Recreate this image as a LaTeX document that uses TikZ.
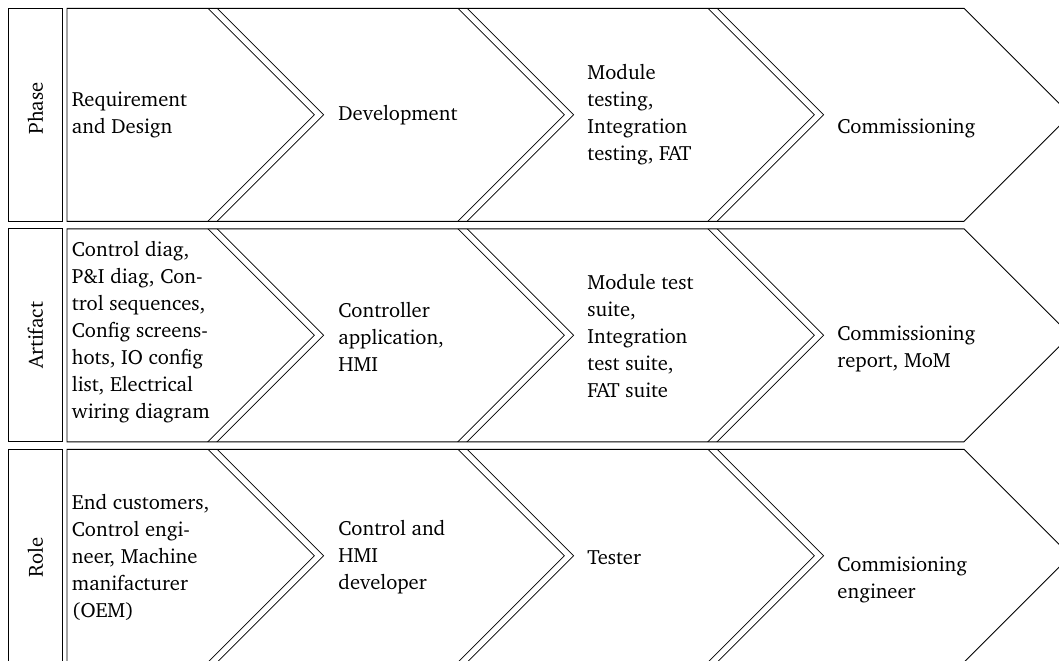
\documentclass[tikz,border=0pt]{standalone}
\usepackage[T1]{fontenc}
\usepackage{charter}
\begin{document}
\begin{tikzpicture}[x=0.4444pt,y=-0.4444pt, line width=0.4pt,
  lab/.style={rotate=90, inner sep=0pt, font=\fontsize{9.15}{12}\selectfont},
  cell/.style={anchor=west, inner sep=0pt, align=left, font=\fontsize{9.15}{12}\selectfont},
  sepline/.style={double, double distance=2.45pt, line width=0.4pt}]
\useasboundingbox (0,0) rectangle (1059,661);
\clip (0,0) rectangle (1059,661);
\foreach \r/\lab/\ly in {0/Phase/108.5, 1/Artifact/335.5, 2/Role/557.5}{
  \pgfmathsetmacro{\T}{8.3+220.5*\r}
  \pgfmathsetmacro{\B}{\T+213}
  \pgfmathsetmacro{\M}{\T+106.5}
  \draw (8.3,\T) rectangle (62.3,\B);
  \node[lab] (lab\r) at (35.5,\ly) {\lab};
  \begin{scope}
    \clip (67,\T) -- (964,\T) -- (1070.5,\M) -- (964,\B) -- (67,\B) -- cycle;
    \foreach \x in {212.5,462.5,712.5}{
      \draw[sepline] (\x-10,\T-10) -- (\x+106.5,\M) -- (\x-10,\B+10);
    }
  \end{scope}
  \draw (67,\T) -- (964,\T) -- (1070.5,\M) -- (964,\B) -- (67,\B) -- cycle;
}
% Phase row
\node[cell] (p1) at (71.5,115) {Requirement\\and Design};
\node[cell] (p2) at (338,115) {Development};
\node[cell] (p3) at (587,115) {Module\\testing,\\Integration\\testing, FAT};
\node[cell] (p4) at (837,128) {Commissioning};
% Artifact row
\node[cell] (a1) at (71.5,332) {Control diag,\\P\&I diag, Con-\\trol sequences,\\Config screens-\\hots, IO config\\list, Electrical\\wiring diagram};
\node[cell] (a2) at (338,336.5) {Controller\\application,\\HMI};
\node[cell] (a3) at (587,336.5) {Module test\\suite,\\Integration\\test suite,\\FAT suite};
\node[cell] (a4) at (837,349) {Commissioning\\report, MoM};
% Role row
\node[cell] (r1) at (71.5,557) {End customers,\\Control engi-\\neer, Machine\\manifacturer\\(OEM)};
\node[cell] (r2) at (338,557) {Control and\\HMI\\developer};
\node[cell] (r3) at (587,558) {Tester};
\node[cell] (r4) at (837,580) {Commisioning\\engineer};
\end{tikzpicture}
\end{document}
